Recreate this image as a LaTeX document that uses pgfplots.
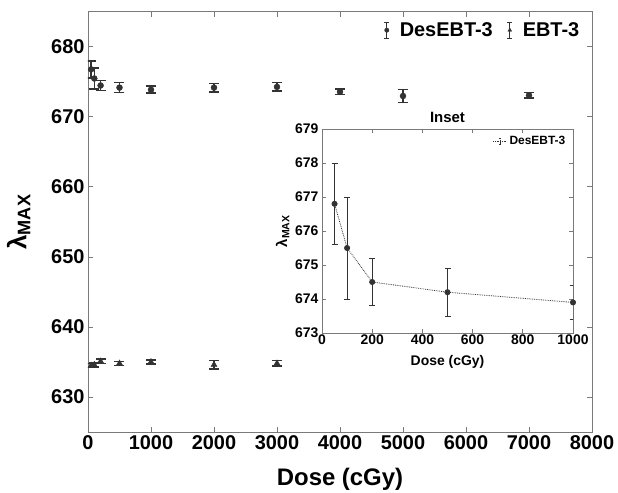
\documentclass[border=0pt]{standalone}
\usepackage{fontspec}
\setmainfont{Liberation Sans}
\usepackage{pgfplots}
\pgfplotsset{compat=1.18}
\definecolor{dk}{HTML}{333333}
\definecolor{ax}{HTML}{7A7A7A}
\pgfplotsset{
  ebimg/.style={legend image code/.code={
    \draw[dk,line width=#1] (0bp,-8bp) -- (0bp,8bp);
    \draw[dk,line width=#1] (-2.5bp,-8bp) -- (2.5bp,-8bp);
    \draw[dk,line width=#1] (-2.5bp,8bp) -- (2.5bp,8bp);
    \draw[##1, mark size=2.2bp] plot coordinates {(0bp,0bp)};
    \path[draw=none, fill=none] (-3bp,0bp) rectangle (11bp,0.1bp);
  }},
}
\begin{document}
\begin{tikzpicture}
\begin{axis}[
  name=main,
  scale only axis, width=504bp, height=420bp,
  xmin=0, xmax=8000, ymin=625, ymax=685,
  xtick={0,1000,2000,3000,4000,5000,6000,7000,8000},
  xticklabels={0,1000,2000,3000,4000,5000,6000,7000,8000},
  ytick={630,640,650,660,670,680},
  yticklabels={630,640,650,660,670,680},
  ticklabel style={font=\bfseries\fontsize{20}{20}\selectfont},
  tick align=inside, major tick length=5bp,
  axis line style={ax, line width=1pt},
  every tick/.style={ax, line width=1pt},
  xlabel={Dose (cGy)},
  xlabel style={font=\bfseries\fontsize{24}{24}\selectfont, yshift=-12bp},
  ylabel={λ\textsubscript{MAX}},
  ylabel style={font=\bfseries\fontsize{26}{26}\selectfont, yshift=14bp},
  legend style={at={(0.985,0.985)}, anchor=north east, draw=none, fill=none,
    font=\bfseries\fontsize{20}{20}\selectfont, legend columns=2,
    /tikz/every even column/.append style={column sep=12bp}},
  legend cell align=left,
]
\addplot[dk, only marks, mark=*, mark size=3bp, mark options={fill=dk, draw=dk},
  ebimg=1pt,
  error bars/.cd, y dir=both, y explicit,
  error bar style={dk, line width=1.6pt},
  error mark options={rotate=90, mark size=5bp, dk, line width=1.6pt}]
  table[x=x, y=y, y error=e] {
x y e
50 676.8 1.2
100 675.5 1.5
200 674.5 0.7
500 674.2 0.7
1000 673.9 0.5
2000 674.2 0.6
3000 674.3 0.6
4000 673.6 0.4
5000 673.0 0.9
7000 673.1 0.4
};
\addlegendentry{DesEBT-3}
\addplot[dk, only marks, mark=triangle*, mark size=3.5bp, mark options={fill=dk, draw=dk},
  ebimg=1pt,
  error bars/.cd, y dir=both, y explicit,
  error bar style={dk, line width=1.6pt},
  error mark options={rotate=90, mark size=5bp, dk, line width=1.6pt}]
  table[x=x, y=y, y error=e] {
x y e
50 634.5 0.3
100 634.6 0.3
200 635.1 0.3
500 634.8 0.3
1000 635.0 0.3
2000 634.6 0.6
3000 634.8 0.4
};
\addlegendentry{EBT-3}
\end{axis}
\begin{axis}[
  at={(234bp,99bp)}, anchor=south west,
  scale only axis, width=251bp, height=204bp,
  axis background/.style={fill=white},
  xmin=0, xmax=1000, ymin=673, ymax=679,
  xtick={0,200,400,600,800,1000},
  xticklabels={0,200,400,600,800,1000},
  ytick={673,674,675,676,677,678,679},
  yticklabels={673,674,675,676,677,678,679},
  ticklabel style={font=\bfseries\fontsize{14}{14}\selectfont},
  xticklabel style={yshift=2bp},
  tick align=inside, major tick length=4bp,
  axis line style={ax, line width=0.8pt},
  every tick/.style={ax, line width=0.8pt},
  title={Inset},
  title style={font=\bfseries\fontsize{15}{15}\selectfont, yshift=-3bp},
  xlabel={Dose (cGy)},
  xlabel style={font=\bfseries\fontsize{14}{14}\selectfont, yshift=-4bp},
  ylabel={λ\textsubscript{MAX}},
  ylabel style={font=\bfseries\fontsize{15}{15}\selectfont, yshift=-1bp},
  legend style={at={(0.99,0.985)}, anchor=north east, draw=none, fill=none,
    font=\bfseries\fontsize{12}{12}\selectfont},
  legend image code/.code={
    \draw[dk, densely dotted, line width=0.8pt] (0cm,0cm) -- (0.5cm,0cm);
    \draw[dk, line width=0.6pt] (0.25cm,-3bp) -- (0.25cm,3bp);
    \draw[dk, line width=0.6pt] (0.2cm,-3bp) -- (0.3cm,-3bp);
    \draw[dk, line width=0.6pt] (0.2cm,3bp) -- (0.3cm,3bp);
  },
]
\addplot[dk, densely dotted, line width=0.8pt, mark=*, mark size=2.6bp,
  mark options={solid, fill=dk, draw=dk},
  error bars/.cd, y dir=both, y explicit,
  error bar style={dk, solid, line width=0.8pt},
  error mark options={rotate=90, mark size=3bp, dk, solid, line width=0.8pt}]
  table[x=x, y=y, y error=e] {
x y e
50 676.8 1.2
100 675.5 1.5
200 674.5 0.7
500 674.2 0.7
1000 673.9 0.5
};
\addlegendentry{DesEBT-3}
\end{axis}
\pgfresetboundingbox
\path[use as bounding box] (-88bp,-61bp) rectangle (530bp,432bp);
\end{tikzpicture}
\end{document}
